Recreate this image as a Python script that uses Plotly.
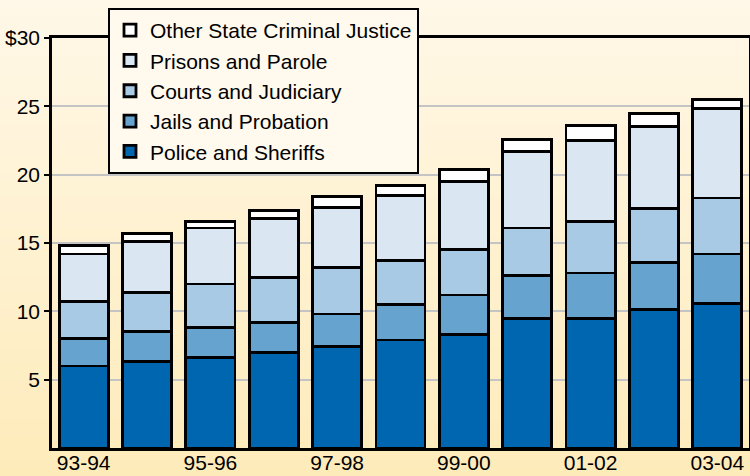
import plotly.graph_objects as go

years = ["93-94", "94-95", "95-96", "96-97", "97-98", "98-99",
         "99-00", "00-01", "01-02", "02-03", "03-04"]
police = [6.0, 6.35, 6.6, 7.0, 7.4, 7.9, 8.3, 9.5, 9.45, 10.15, 10.6]
jails = [2.0, 2.15, 2.2, 2.2, 2.4, 2.6, 2.9, 3.1, 3.35, 3.45, 3.6]
courts = [2.7, 2.9, 3.2, 3.3, 3.4, 3.2, 3.3, 3.5, 3.8, 3.9, 4.1]
prisons = [3.5, 3.7, 4.1, 4.3, 4.4, 4.8, 5.0, 5.6, 5.9, 6.0, 6.55]
other = [0.6, 0.6, 0.5, 0.6, 0.8, 0.7, 0.9, 0.9, 1.1, 1.0, 0.65]

series = [
    ("Police and Sheriffs", police, "#0066B0"),
    ("Jails and Probation", jails, "#66A4CF"),
    ("Courts and Judiciary", courts, "#A8CAE4"),
    ("Prisons and Parole", prisons, "#DAE6F2"),
    ("Other State Criminal Justice", other, "#FFFFFF"),
]

ytickvals = [5, 10, 15, 20, 25, 30]
yticktext = ["5", "10", "15", "20", "25", "$30"]
xtickvals = years[::2]

fig = go.Figure()
for name, vals, col in series:
    fig.add_trace(go.Bar(
        x=years, y=vals, name=name,
        marker=dict(color=col, line=dict(color="#000000", width=2.8)),
    ))

# background gradient (vertical)
W, H = 750, 476
L, R, T, B = 52, 1, 38, 28
pw, ph = W - L - R, H - T - B
top = (255, 248, 232)
bot = (254, 235, 186)
shapes = []
n = 60
for i in range(n):
    y0px = H * i / n
    y1px = H * (i + 1) / n
    f = (i + 0.5) / n
    c = tuple(round(top[k] + (bot[k] - top[k]) * f) for k in range(3))
    shapes.append(dict(
        type="rect", xref="paper", yref="paper", layer="below",
        x0=-L / pw, x1=1 + R / pw + 0.01,
        y0=(H - B - y1px) / ph - 0.002, y1=(H - B - y0px) / ph + 0.002,
        fillcolor="rgb(%d,%d,%d)" % c, line=dict(width=0),
    ))

fig.update_layout(
    width=W, height=H,
    margin=dict(l=L, r=R, t=T, b=B),
    barmode="stack", bargap=0.226,
    paper_bgcolor="rgb(255,248,232)",
    plot_bgcolor="rgba(0,0,0,0)",
    font=dict(family="Liberation Sans, Arial, sans-serif", size=21, color="#000000"),
    shapes=shapes,
    showlegend=True,
    legend=dict(
        x=(108 - L) / pw, y=(H - B - 8) / ph, xanchor="left", yanchor="top",
        traceorder="reversed",
        bgcolor="#FFF9EE", bordercolor="#000000", borderwidth=2,
        font=dict(size=21), tracegroupgap=0,
        itemwidth=30,
    ),
    xaxis=dict(
        type="category", automargin=False,
        tickmode="array", tickvals=xtickvals,
        showline=True, linecolor="#000000", linewidth=2.5, mirror=True,
        ticks="", showgrid=False, range=[-0.5, 10.5],
        ticklabelstandoff=-6,
    ),
    yaxis=dict(
        automargin=False,
        range=[0, 30], tickmode="array", tickvals=ytickvals, ticktext=yticktext,
        showline=True, linecolor="#000000", linewidth=2.5, mirror=True,
        ticks="outside", ticklen=5, tickwidth=2, tickcolor="#000000",
        showgrid=True, gridcolor="#C4C4C4", gridwidth=2, zeroline=False,
    ),
)

fig.write_html("out.html", config={"displayModeBar": False},
               post_script="document.body.style.margin='0';")
